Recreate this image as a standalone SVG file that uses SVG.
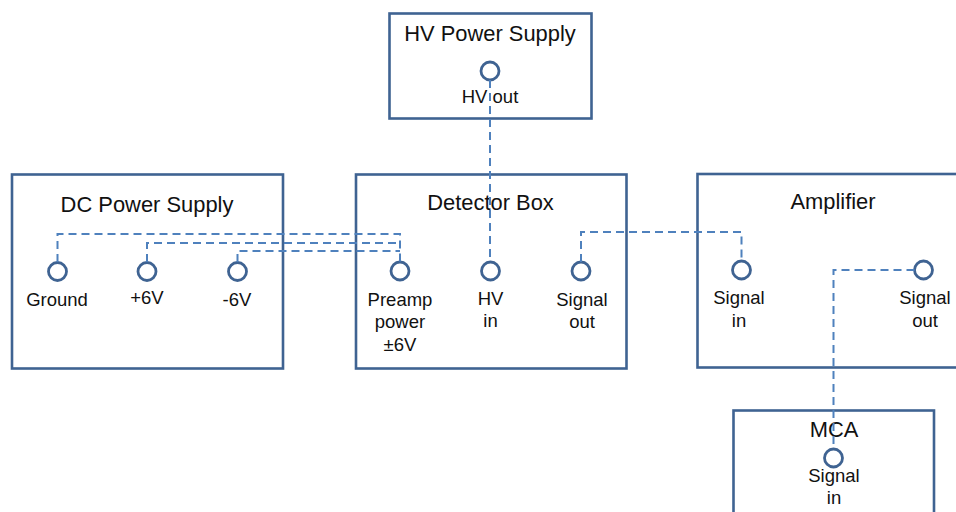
<svg xmlns="http://www.w3.org/2000/svg" width="956" height="512" viewBox="0 0 956 512">
<style>
.box{fill:#fff;stroke:#3f6392;stroke-width:2.6}
.port{fill:#fff;stroke:#3f6392;stroke-width:2.8}
.title{font-family:"Liberation Sans",Arial,sans-serif;font-size:21.9px;fill:#111;text-anchor:middle}
.lbl{font-family:"Liberation Sans",Arial,sans-serif;font-size:18.5px;fill:#111;text-anchor:middle}
.wire{fill:none;stroke:#4f81bd;stroke-width:2;stroke-dasharray:8 5}
</style>
<rect width="956" height="512" fill="#fff"/>
<g id="hv-power-supply">
<rect class="box" x="389.5" y="13.5" width="202" height="105"/>
<text class="title" x="490" y="41">HV Power Supply</text>
<circle class="port" cx="490" cy="71" r="9"/>
<text class="lbl" x="490" y="103">HV out</text>
</g>
<g id="dc-power-supply">
<rect class="box" x="12" y="174.5" width="271" height="194"/>
<text class="title" x="147" y="211.5">DC Power Supply</text>
<circle class="port" cx="57.5" cy="271.5" r="9"/>
<circle class="port" cx="147" cy="271.5" r="9"/>
<circle class="port" cx="237.5" cy="271.5" r="9"/>
<text class="lbl" x="57" y="305.5">Ground</text>
<text class="lbl" x="147" y="304">+6V</text>
<text class="lbl" x="237" y="306">-6V</text>
</g>
<g id="detector-box">
<rect class="box" x="356" y="174.5" width="270.5" height="194"/>
<text class="title" x="490.5" y="210">Detector Box</text>
<circle class="port" cx="400" cy="271" r="9"/>
<circle class="port" cx="490.5" cy="271" r="9"/>
<circle class="port" cx="581" cy="271" r="9"/>
<text class="lbl" x="400" y="305.5">Preamp</text>
<text class="lbl" x="400" y="328">power</text>
<text class="lbl" x="400" y="350.5">±6V</text>
<text class="lbl" x="490.5" y="304.5">HV</text>
<text class="lbl" x="490.5" y="327">in</text>
<text class="lbl" x="582" y="305.5">Signal</text>
<text class="lbl" x="582" y="328">out</text>
</g>
<g id="amplifier">
<rect class="box" x="697.5" y="174" width="270" height="193.5"/>
<text class="title" x="833" y="209">Amplifier</text>
<circle class="port" cx="741.5" cy="270" r="9"/>
<circle class="port" cx="923.5" cy="270" r="9"/>
<text class="lbl" x="739" y="303.5">Signal</text>
<text class="lbl" x="739" y="326.5">in</text>
<text class="lbl" x="925" y="303.5">Signal</text>
<text class="lbl" x="925" y="326.5">out</text>
</g>
<g id="mca">
<rect class="box" x="733.5" y="410.5" width="200.5" height="120"/>
<text class="title" x="834" y="437">MCA</text>
<circle class="port" cx="833.5" cy="458" r="9"/>
<text class="lbl" x="834" y="482">Signal</text>
<text class="lbl" x="834" y="504">in</text>
</g>
<g id="connectors">
<polyline class="wire" points="57.5,262 57.5,234 400,234 400,262"/>
<polyline class="wire" points="147,262 147,243 400,243"/>
<polyline class="wire" points="237.5,262 237.5,251 400,251"/>
<polyline class="wire" points="490,80 490,262"/>
<polyline class="wire" points="581,262 581,232 741.5,232 741.5,261"/>
<polyline class="wire" points="914.5,270 833.5,270 833.5,449"/>
</g>
</svg>
